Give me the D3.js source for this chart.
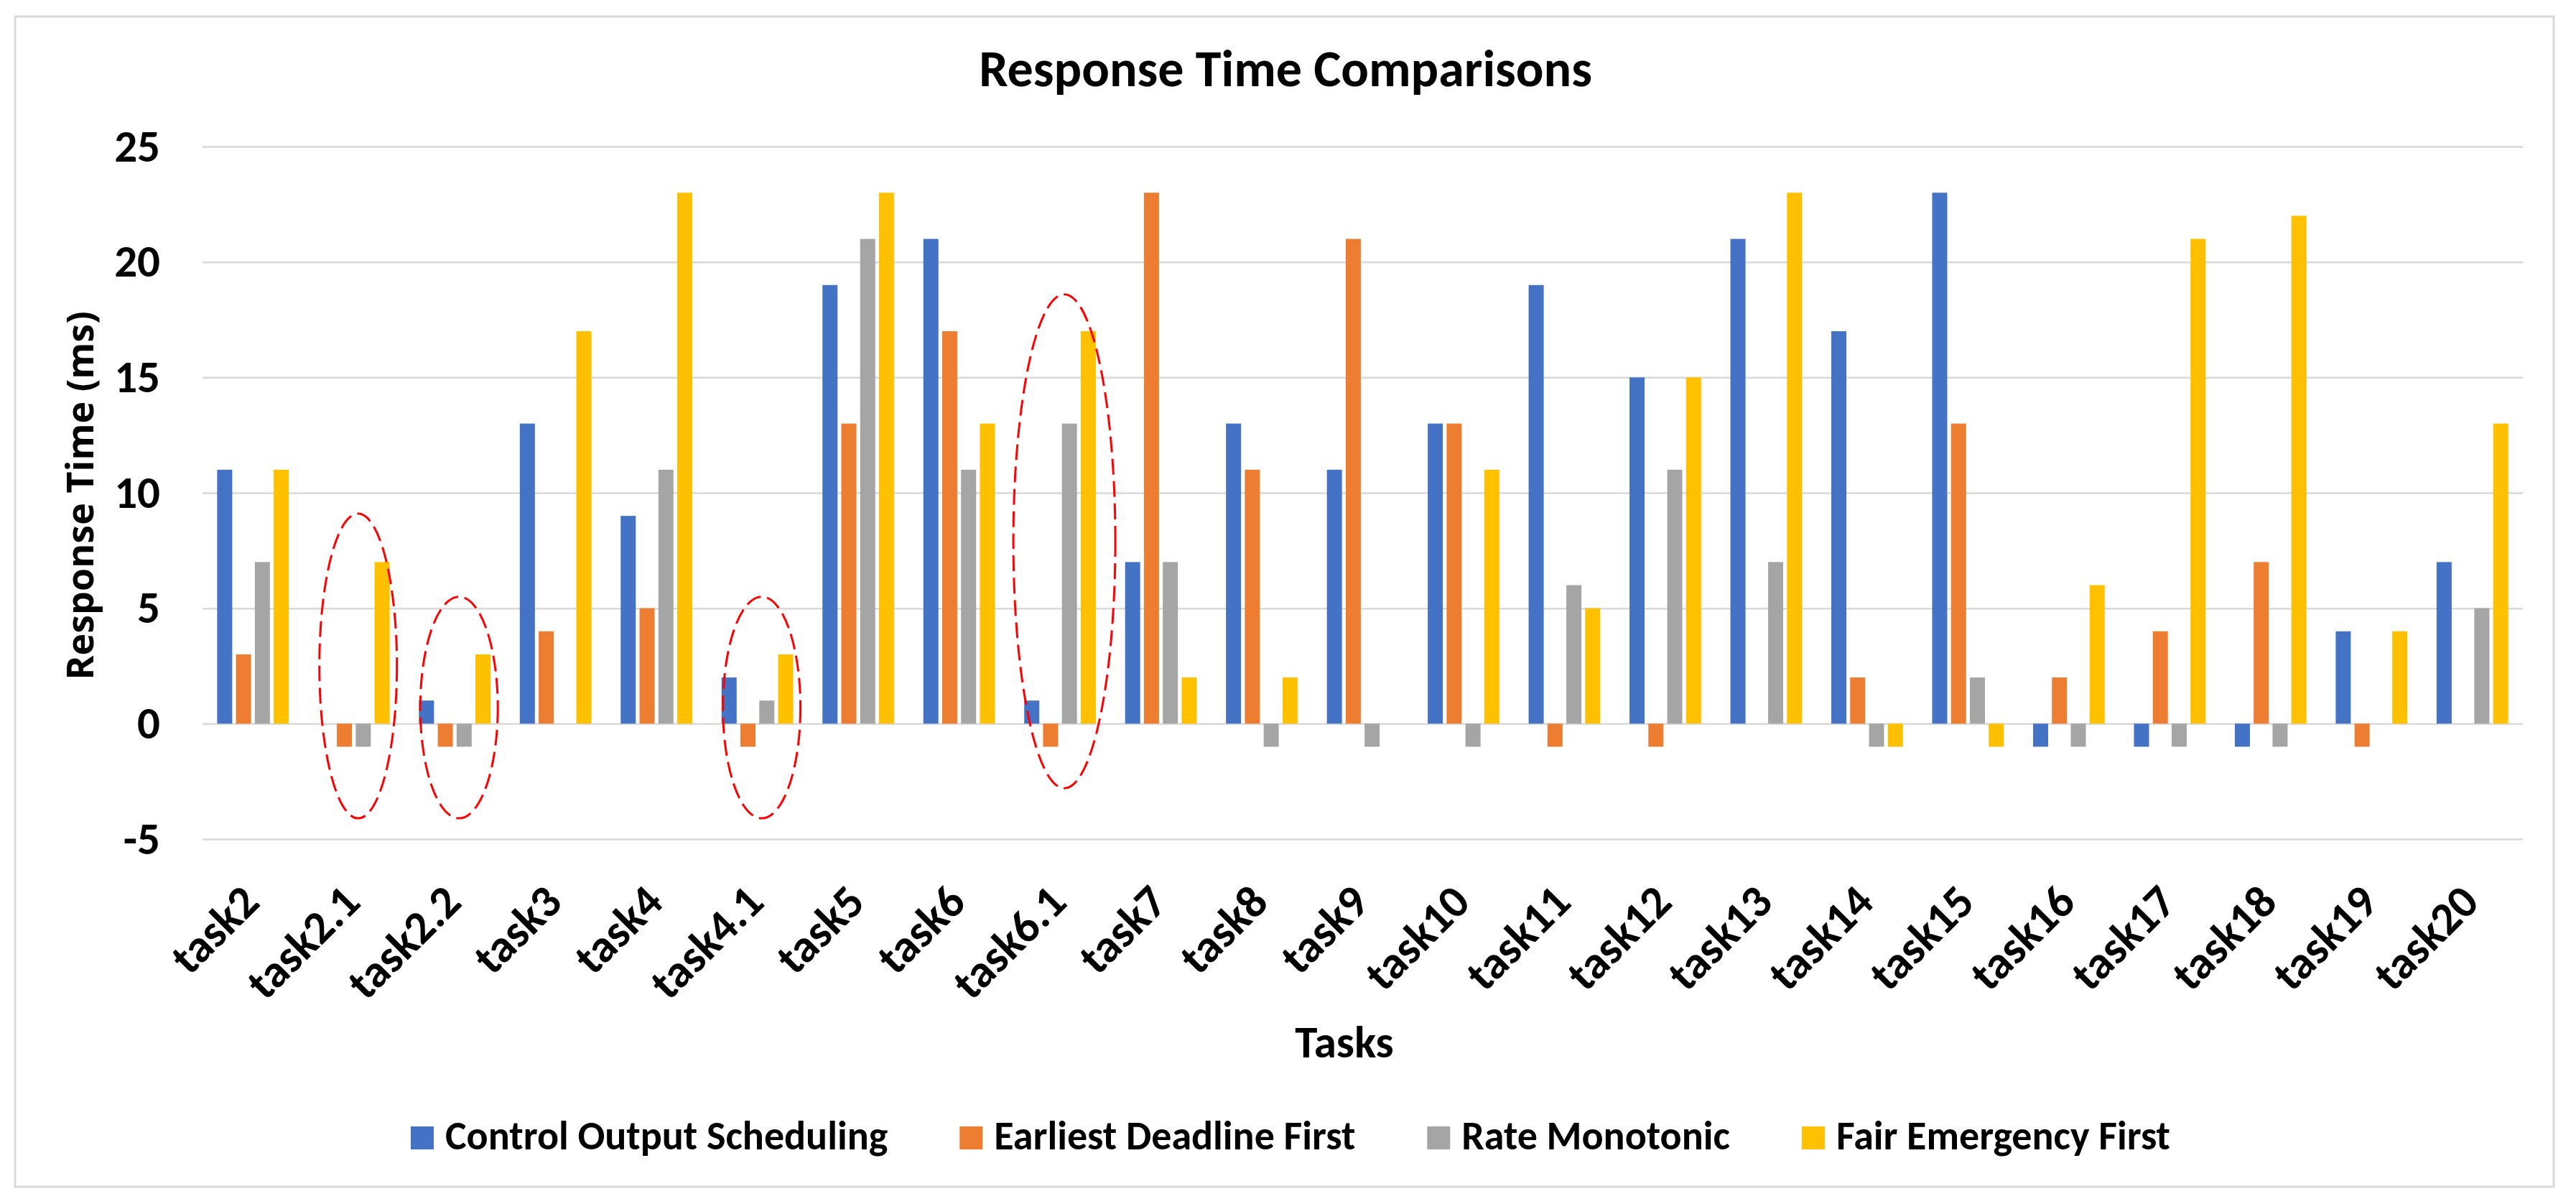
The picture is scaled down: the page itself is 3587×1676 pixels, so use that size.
<!DOCTYPE html>
<html>
<head>
<meta charset="utf-8">
<script src="https://cdn.jsdelivr.net/npm/d3@7"></script>
<style>
  body { margin: 0; background: #fff; }
  text { font-family: Carlito, Calibri, "Open Sans", sans-serif; font-weight: bold; fill: #000; }
</style>
</head>
<body>
<div id="chart"></div>
<script>
// data
var tasks = ["task2", "task2.1", "task2.2", "task3", "task4", "task4.1", "task5", "task6", "task6.1", "task7",
  "task8", "task9", "task10", "task11", "task12", "task13", "task14", "task15", "task16", "task17",
  "task18", "task19", "task20"];
var seriesNames = ["Control Output Scheduling", "Earliest Deadline First", "Rate Monotonic", "Fair Emergency First"];
var cos = [11, 0, 1, 13, 9, 2, 19, 21, 1, 7, 13, 11, 13, 19, 15, 21, 17, 23, -1, -1, -1, 4, 7];
var edf = [3, -1, -1, 4, 5, -1, 13, 17, -1, 23, 11, 21, 13, -1, -1, 0, 2, 13, 2, 4, 7, -1, 0];
var rm  = [7, -1, -1, 0, 11, 1, 21, 11, 13, 7, -1, -1, -1, 6, 11, 7, -1, 2, -1, -1, -1, 0, 5];
var fef = [11, 7, 3, 17, 23, 3, 23, 13, 17, 2, 2, 0, 11, 5, 15, 23, -1, -1, 6, 21, 22, 4, 13];
var yTicks = [-5, 0, 5, 10, 15, 20, 25];
// red dashed rings drawn over some groups (centre and half height in ms)
var rings = [
  {task: "task2.1", cy: 2.5, ry: 6.6},
  {task: "task2.2", cy: 0.7, ry: 4.8},
  {task: "task4.1", cy: 0.7, ry: 4.8},
  {task: "task6.1", cy: 7.9, ry: 10.7}
];

var colors = ["#4472C4", "#ED7D31", "#A5A5A5", "#FFC000"];
var allSeries = [cos, edf, rm, fef];

var W = 3587, H = 1676;
var margin = {top: 204, right: 74, bottom: 508, left: 282},
    width = W - margin.left - margin.right,
    height = H - margin.top - margin.bottom;

var svg = d3.select("#chart")
  .append("svg")
    .attr("width", W)
    .attr("height", H);

svg.append("rect")
  .attr("x", 0).attr("y", 0).attr("width", W).attr("height", H)
  .attr("fill", "#fff");

// outer chart border
svg.append("rect")
  .attr("x", 21).attr("y", 23)
  .attr("width", 3535).attr("height", 1629)
  .attr("fill", "none")
  .attr("stroke", "#d9d9d9")
  .attr("stroke-width", 3);

var g = svg.append("g")
  .attr("transform", "translate(" + margin.left + "," + margin.top + ")");

var x0 = d3.scaleBand()
  .domain(tasks)
  .range([0, width])
  .paddingInner(0.29)
  .paddingOuter(0.145);

var x1 = d3.scaleBand()
  .domain(d3.range(4))
  .range([0, x0.bandwidth()])
  .paddingInner(0.2);

var y = d3.scaleLinear()
  .domain([-5, 25])
  .range([height, 0]);

// gridlines + y labels (plain hyphen for the minus, like the original)
var yAxis = g.append("g")
  .call(d3.axisLeft(y).tickValues(yTicks).tickSize(-width).tickPadding(59)
    .tickFormat(function(d) { return String(d); }));
yAxis.select(".domain").remove();
yAxis.selectAll(".tick line")
  .attr("stroke", "#d9d9d9")
  .attr("stroke-width", 2.5);
yAxis.selectAll(".tick text")
  .style("font-size", "63px");

// bars
allSeries.forEach(function(vals, s) {
  g.selectAll(".bar" + s)
    .data(vals)
    .enter().append("rect")
      .attr("fill", colors[s])
      .attr("x", function(d, i) { return x0(tasks[i]) + x1(s); })
      .attr("width", x1.bandwidth())
      .attr("y", function(d) { return y(Math.max(0, d)); })
      .attr("height", function(d) { return Math.abs(y(d) - y(0)); });
});

// category labels
var xAxis = g.append("g")
  .attr("transform", "translate(0," + height + ")")
  .call(d3.axisBottom(x0).tickSize(0));
xAxis.select(".domain").remove();
xAxis.selectAll(".tick text")
  .style("font-size", "64px")
  .attr("text-anchor", "end")
  .attr("transform", "translate(" + 12 + "," + 91 + ") rotate(-45)")
  .attr("x", 0).attr("y", 0).attr("dy", 0);

// dashed rings
g.selectAll(".ring")
  .data(rings)
  .enter().append("ellipse")
    .attr("cx", function(d) { return x0(d.task) + x0.bandwidth() / 2 + 6; })
    .attr("cy", function(d) { return y(d.cy); })
    .attr("rx", function(d) { return d.task == "task6.1" ? 71 : 54; })
    .attr("ry", function(d) { return y(0) - y(d.ry); })
    .attr("fill", "none")
    .attr("stroke", "#ff0000")
    .attr("stroke-width", 3)
    .attr("stroke-dasharray", "22,9");

// titles
svg.append("text")
  .attr("x", 1790).attr("y", 120)
  .attr("text-anchor", "middle")
  .style("font-size", "72px")
  .text("Response Time Comparisons");

svg.append("text")
  .attr("x", 1872).attr("y", 1472)
  .attr("text-anchor", "middle")
  .style("font-size", "63px")
  .text("Tasks");

svg.append("text")
  .attr("transform", "translate(130," + (margin.top + y(10) + 4) + ") rotate(-90)")
  .attr("text-anchor", "middle")
  .style("font-size", "52px")
  .style("font-family", "'Open Sans', sans-serif")
  .text("Response Time (ms)");

// legend, laid out from measured text widths
var legend = svg.append("g");
var lx = 0;
seriesNames.forEach(function(name, s) {
  var item = legend.append("g").attr("transform", "translate(" + lx + ",0)");
  item.append("rect")
    .attr("x", 0).attr("y", -32)
    .attr("width", 32).attr("height", 32)
    .attr("fill", colors[s]);
  var t = item.append("text")
    .attr("x", 48).attr("y", 0)
    .style("font-size", "56px")
    .text(name);
  lx += 48 + t.node().getComputedTextLength() + 100;
});
lx -= 100;
legend.attr("transform", "translate(" + (1797 - lx / 2) + ",1600)");
</script>
</body>
</html>
